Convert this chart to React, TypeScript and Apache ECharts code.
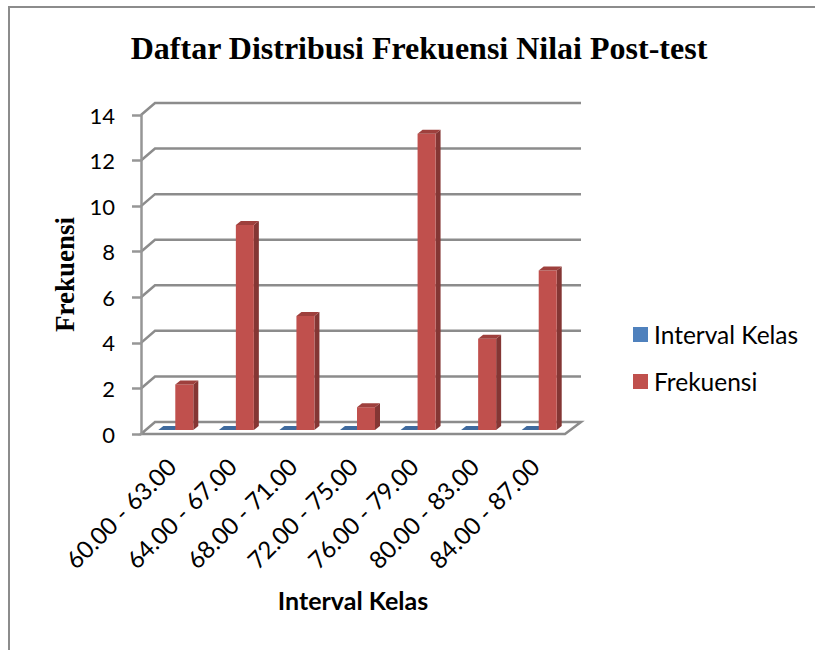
import React, { useEffect, useRef } from "react";
import * as echarts from "echarts";

const categories = ["60.00 - 63.00", "64.00 - 67.00", "68.00 - 71.00", "72.00 - 75.00", "76.00 - 79.00", "80.00 - 83.00", "84.00 - 87.00"];
const intervalKelas = [0, 0, 0, 0, 0, 0, 0];
const frekuensi = [2, 9, 5, 1, 13, 4, 7];
const yTicks = [0, 2, 4, 6, 8, 10, 12, 14];

const GRID_GRAY = "#8c8c8c";
const DX = 14;
const DY = 12;

function wallItem(params: any, api: any) {
  const tick = api.value(1);
  const p = api.coord([0, tick]);
  const cs = params.coordSys;
  const x0 = cs.x;
  const x1 = cs.x + cs.width;
  const y = p[1];
  const children: any[] = [];
  if (tick === 0) {
    children.push({
      type: "polygon",
      shape: { points: [[x0, y], [x0 + DX, y - DY], [x1 + DX + 2, y - DY], [x1, y]] },
      style: { fill: "#ffffff", stroke: GRID_GRAY, lineWidth: 2.5 },
    });
  } else {
    children.push({
      type: "polyline",
      shape: { points: [[x0, y], [x0 + DX, y - DY], [x1 + DX + 2, y - DY]] },
      style: { fill: "none", stroke: GRID_GRAY, lineWidth: 2.5 },
    });
  }
  return { type: "group", children };
}

function barRenderer(from: number, to: number, front: string, side: string, top: string) {
  return (_params: any, api: any) => {
    const idx = api.value(0);
    const v = api.value(1);
    const c = api.coord([idx, v]);
    const b = api.coord([idx, 0]);
    const xa = c[0] + from;
    const xb = c[0] + to;
    const yb = b[1] - 4;
    const yt = c[1] - 4;
    const dx = 5;
    const dy = 4;
    const children: any[] = [];
    if (v > 0) {
      children.push({
        type: "polygon",
        shape: { points: [[xb, yt], [xb + dx, yt - dy], [xb + dx, yb - dy], [xb, yb]] },
        style: { fill: side },
      });
      children.push({ type: "rect", shape: { x: xa, y: yt, width: xb - xa, height: yb - yt }, style: { fill: front } });
    }
    children.push({
      type: "polygon",
      shape: { points: [[xa, yt], [xa + dx, yt - dy], [xb + dx, yt - dy], [xb, yt]] },
      style: { fill: top },
    });
    return { type: "group", children };
  };
}

export default function App() {
  const ref = useRef<HTMLDivElement>(null);
  useEffect(() => {
    const chart = echarts.init(ref.current!, undefined, { renderer: "svg" });
    chart.setOption({
      animation: false,
      backgroundColor: "#ffffff",
      title: {
        text: "Daftar Distribusi Frekuensi Nilai Post-test",
        left: 414,
        top: 27,
        textAlign: "center",
        textStyle: { fontFamily: "Liberation Serif", fontWeight: "bold", fontSize: 32, color: "#000" },
      },
      legend: {
        data: ["Interval Kelas", "Frekuensi"],
        orient: "vertical",
        left: 628,
        top: 317,
        itemWidth: 15,
        itemHeight: 15,
        itemGap: 22,
        icon: "rect",
        selectedMode: false,
        textStyle: { fontFamily: "Lato", fontSize: 24.5, color: "#000", padding: [0, 0, 0, 1] },
      },
      grid: { left: 141, top: 115, width: 424, height: 319 },
      xAxis: {
        type: "category",
        data: categories,
        name: "Interval Kelas",
        nameLocation: "middle",
        nameGap: 153,
        nameTextStyle: { fontFamily: "Lato", fontWeight: "bold", fontSize: 25, color: "#000" },
        axisLine: { show: false },
        axisTick: { show: false },
        axisLabel: { interval: 0, rotate: 45, fontFamily: "Lato", fontSize: 24, color: "#000", margin: 28 },
      },
      yAxis: {
        type: "value",
        min: 0,
        max: 14,
        interval: 2,
        name: "Frekuensi",
        nameLocation: "middle",
        nameGap: 63,
        nameTextStyle: { fontFamily: "Liberation Serif", fontWeight: "bold", fontSize: 27, color: "#000" },
        splitLine: { show: false },
        axisLine: { show: true, lineStyle: { color: "#969696", width: 2.5 } },
        axisTick: { show: true, length: 9, lineStyle: { color: "#969696", width: 2.5 } },
        axisLabel: { fontFamily: "Lato", fontSize: 22, color: "#000", margin: 26 },
        z: 5,
      },
      graphic: [
        { type: "line", shape: { x1: 8, y1: 7, x2: 815, y2: 7 }, style: { stroke: "#8c8c8c", lineWidth: 2 } },
        { type: "line", shape: { x1: 9, y1: 6, x2: 9, y2: 650 }, style: { stroke: "#8c8c8c", lineWidth: 2 } },
      ],
      series: [
        {
          name: "walls",
          type: "custom",
          silent: true,
          clip: false,
          z: 1,
          data: yTicks.map((t) => [0, t]),
          renderItem: wallItem,
        },
        {
          name: "Interval Kelas",
          type: "custom",
          clip: false,
          z: 2,
          itemStyle: { color: "#4F81BD" },
          data: intervalKelas.map((v, i) => [i, v]),
          renderItem: barRenderer(-13, 4, "#4F81BD", "#385D8A", "#3F6A9E"),
        },
        {
          name: "Frekuensi",
          type: "custom",
          clip: false,
          z: 3,
          itemStyle: { color: "#C0504D" },
          data: frekuensi.map((v, i) => [i, v]),
          renderItem: barRenderer(4, 22, "#C0504D", "#843634", "#9E403D"),
        },
      ],
    });
    return () => chart.dispose();
  }, []);
  return <div ref={ref} style={{ position: "fixed", left: 0, top: 0, width: 815, height: 650 }} />;
}
